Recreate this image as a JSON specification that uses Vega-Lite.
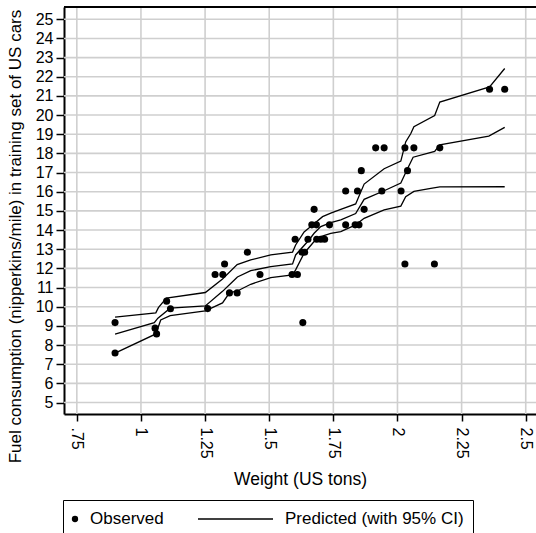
{
  "$schema": "https://vega.github.io/schema/vega-lite/v6.json",
  "width": 472,
  "height": 407,
  "autosize": {"type": "none"},
  "padding": {"left": 64, "top": 7, "right": 0, "bottom": 119},
  "background": "white",
  "config": {
    "font": "Liberation Sans",
    "view": {"stroke": null},
    "axis": {"labelColor": "black", "titleColor": "black", "titleFontWeight": "normal", "domainColor": "black", "tickColor": "black", "labelOverlap": false, "grid": false}
  },
  "datasets": {
    "gx": [{"gxv": 0.75}, {"gxv": 1}, {"gxv": 1.25}, {"gxv": 1.5}, {"gxv": 1.75}, {"gxv": 2}, {"gxv": 2.25}, {"gxv": 2.5}],
    "gy": [{"gyv": 5}, {"gyv": 6}, {"gyv": 7}, {"gyv": 8}, {"gyv": 9}, {"gyv": 10}, {"gyv": 11}, {"gyv": 12}, {"gyv": 13}, {"gyv": 14}, {"gyv": 15}, {"gyv": 16}, {"gyv": 17}, {"gyv": 18}, {"gyv": 19}, {"gyv": 20}, {"gyv": 21}, {"gyv": 22}, {"gyv": 23}, {"gyv": 24}, {"gyv": 25}],
    "obs": [
      {"weight": 0.899, "fuel": 9.17}, {"weight": 0.899, "fuel": 7.58},
      {"weight": 1.055, "fuel": 8.88}, {"weight": 1.061, "fuel": 8.58},
      {"weight": 1.100, "fuel": 10.29}, {"weight": 1.115, "fuel": 9.89},
      {"weight": 1.260, "fuel": 9.90}, {"weight": 1.289, "fuel": 11.68},
      {"weight": 1.319, "fuel": 11.68}, {"weight": 1.326, "fuel": 12.23},
      {"weight": 1.345, "fuel": 10.72}, {"weight": 1.375, "fuel": 10.72},
      {"weight": 1.415, "fuel": 12.84}, {"weight": 1.464, "fuel": 11.68},
      {"weight": 1.589, "fuel": 11.68}, {"weight": 1.610, "fuel": 11.68},
      {"weight": 1.601, "fuel": 13.52}, {"weight": 1.631, "fuel": 9.17},
      {"weight": 1.628, "fuel": 12.84}, {"weight": 1.638, "fuel": 12.84},
      {"weight": 1.651, "fuel": 13.52}, {"weight": 1.666, "fuel": 14.27},
      {"weight": 1.684, "fuel": 14.27}, {"weight": 1.675, "fuel": 15.08},
      {"weight": 1.685, "fuel": 13.52}, {"weight": 1.701, "fuel": 13.52},
      {"weight": 1.716, "fuel": 13.52}, {"weight": 1.735, "fuel": 14.27},
      {"weight": 1.798, "fuel": 14.27}, {"weight": 1.835, "fuel": 14.27},
      {"weight": 1.850, "fuel": 14.27}, {"weight": 1.870, "fuel": 15.08},
      {"weight": 1.798, "fuel": 16.04}, {"weight": 1.844, "fuel": 16.04},
      {"weight": 1.859, "fuel": 17.10}, {"weight": 1.915, "fuel": 18.29},
      {"weight": 1.948, "fuel": 18.29}, {"weight": 1.939, "fuel": 16.04},
      {"weight": 2.014, "fuel": 16.04}, {"weight": 2.029, "fuel": 18.29},
      {"weight": 2.064, "fuel": 18.29}, {"weight": 2.039, "fuel": 17.10},
      {"weight": 2.165, "fuel": 18.29}, {"weight": 2.029, "fuel": 12.23},
      {"weight": 2.144, "fuel": 12.23}, {"weight": 2.359, "fuel": 21.35},
      {"weight": 2.418, "fuel": 21.35}
    ],
    "pred": [
      {"band": "hi", "weight": 0.899, "value": 9.46}, {"band": "hi", "weight": 1.058, "value": 9.68},
      {"band": "hi", "weight": 1.068, "value": 9.95}, {"band": "hi", "weight": 1.099, "value": 10.45},
      {"band": "hi", "weight": 1.251, "value": 10.74}, {"band": "hi", "weight": 1.318, "value": 11.45},
      {"band": "hi", "weight": 1.375, "value": 12.2}, {"band": "hi", "weight": 1.428, "value": 12.44},
      {"band": "hi", "weight": 1.506, "value": 12.70}, {"band": "hi", "weight": 1.591, "value": 12.85},
      {"band": "hi", "weight": 1.603, "value": 13.22}, {"band": "hi", "weight": 1.636, "value": 13.90},
      {"band": "hi", "weight": 1.662, "value": 14.18}, {"band": "hi", "weight": 1.708, "value": 14.70},
      {"band": "hi", "weight": 1.740, "value": 14.88}, {"band": "hi", "weight": 1.779, "value": 15.08},
      {"band": "hi", "weight": 1.837, "value": 15.36}, {"band": "hi", "weight": 1.870, "value": 16.4},
      {"band": "hi", "weight": 1.948, "value": 17.2}, {"band": "hi", "weight": 2.013, "value": 17.6},
      {"band": "hi", "weight": 2.032, "value": 18.6}, {"band": "hi", "weight": 2.052, "value": 19.04},
      {"band": "hi", "weight": 2.064, "value": 19.39}, {"band": "hi", "weight": 2.145, "value": 19.98},
      {"band": "hi", "weight": 2.165, "value": 20.68}, {"band": "hi", "weight": 2.359, "value": 21.47},
      {"band": "hi", "weight": 2.418, "value": 22.43},
      {"band": "fit", "weight": 0.899, "value": 8.57}, {"band": "fit", "weight": 1.052, "value": 9.17},
      {"band": "fit", "weight": 1.066, "value": 9.40}, {"band": "fit", "weight": 1.114, "value": 9.92},
      {"band": "fit", "weight": 1.251, "value": 10.04}, {"band": "fit", "weight": 1.318, "value": 10.8},
      {"band": "fit", "weight": 1.357, "value": 11.3}, {"band": "fit", "weight": 1.376, "value": 11.55},
      {"band": "fit", "weight": 1.428, "value": 11.88}, {"band": "fit", "weight": 1.506, "value": 12.09},
      {"band": "fit", "weight": 1.591, "value": 12.23}, {"band": "fit", "weight": 1.603, "value": 12.70},
      {"band": "fit", "weight": 1.655, "value": 13.48}, {"band": "fit", "weight": 1.675, "value": 13.83},
      {"band": "fit", "weight": 1.701, "value": 14.18}, {"band": "fit", "weight": 1.740, "value": 14.39},
      {"band": "fit", "weight": 1.779, "value": 14.53}, {"band": "fit", "weight": 1.837, "value": 14.86},
      {"band": "fit", "weight": 1.870, "value": 15.6}, {"band": "fit", "weight": 1.948, "value": 16.05},
      {"band": "fit", "weight": 2.013, "value": 16.45}, {"band": "fit", "weight": 2.039, "value": 17.2},
      {"band": "fit", "weight": 2.061, "value": 17.8}, {"band": "fit", "weight": 2.145, "value": 18.1},
      {"band": "fit", "weight": 2.165, "value": 18.45}, {"band": "fit", "weight": 2.356, "value": 18.9},
      {"band": "fit", "weight": 2.418, "value": 19.36},
      {"band": "lo", "weight": 0.899, "value": 7.58}, {"band": "lo", "weight": 1.058, "value": 8.58},
      {"band": "lo", "weight": 1.077, "value": 9.31}, {"band": "lo", "weight": 1.114, "value": 9.53},
      {"band": "lo", "weight": 1.251, "value": 9.78}, {"band": "lo", "weight": 1.318, "value": 10.2},
      {"band": "lo", "weight": 1.345, "value": 10.72}, {"band": "lo", "weight": 1.376, "value": 10.82},
      {"band": "lo", "weight": 1.428, "value": 11.17}, {"band": "lo", "weight": 1.506, "value": 11.52},
      {"band": "lo", "weight": 1.591, "value": 11.66}, {"band": "lo", "weight": 1.603, "value": 11.92},
      {"band": "lo", "weight": 1.636, "value": 12.79}, {"band": "lo", "weight": 1.675, "value": 13.40},
      {"band": "lo", "weight": 1.701, "value": 13.66}, {"band": "lo", "weight": 1.740, "value": 13.83},
      {"band": "lo", "weight": 1.779, "value": 13.92}, {"band": "lo", "weight": 1.837, "value": 14.27},
      {"band": "lo", "weight": 1.870, "value": 14.61}, {"band": "lo", "weight": 1.948, "value": 15.05},
      {"band": "lo", "weight": 2.013, "value": 15.25}, {"band": "lo", "weight": 2.032, "value": 15.74},
      {"band": "lo", "weight": 2.064, "value": 16.02}, {"band": "lo", "weight": 2.130, "value": 16.18},
      {"band": "lo", "weight": 2.165, "value": 16.25}, {"band": "lo", "weight": 2.418, "value": 16.26}
    ]
  },
  "layer": [
    {
      "data": {"name": "gx"},
      "mark": {"type": "rule", "stroke": "#cfcfcf", "strokeWidth": 1.6},
      "encoding": {
        "x": {"field": "gxv", "type": "quantitative", "scale": {"domain": [0.7, 2.54], "nice": false, "zero": false},
          "axis": {"values": [0.75, 1, 1.25, 1.5, 1.75, 2, 2.25, 2.5], "labelExpr": "datum.value == 0.75 ? '.75' : format(datum.value, '~g')", "labelAngle": 90, "labelFontSize": 16, "labelPadding": 6, "tickSize": 7, "tickWidth": 1.5, "domainWidth": 2, "title": "Weight (US tons)", "titleFontSize": 17.5, "titleY": 70, "titleBaseline": "alphabetic"}},
        "y": {"datum": 4.4, "type": "quantitative", "scale": {"domain": [4.4, 25.64], "nice": false, "zero": false},
          "axis": {"values": [5,6,7,8,9,10,11,12,13,14,15,16,17,18,19,20,21,22,23,24,25], "labelOverlap": false, "labelFontSize": 16, "labelPadding": 3, "tickSize": 8, "tickWidth": 1.5, "domainWidth": 2, "title": "Fuel consumption (nipperkins/mile) in training set of US cars", "titleFontSize": 17, "titleX": -44, "titleY": 229, "titleBaseline": "alphabetic"}},
        "y2": {"datum": 25.64}
      }
    },
    {
      "data": {"name": "gy"},
      "mark": {"type": "rule", "stroke": "#cfcfcf", "strokeWidth": 1.6},
      "encoding": {
        "y": {"field": "gyv", "type": "quantitative",
          "axis": {"values": [5,6,7,8,9,10,11,12,13,14,15,16,17,18,19,20,21,22,23,24,25], "labelOverlap": false, "labelFontSize": 16, "labelPadding": 3, "tickSize": 8, "tickWidth": 1.5, "domainWidth": 2, "title": "Fuel consumption (nipperkins/mile) in training set of US cars", "titleFontSize": 17, "titleX": -44, "titleY": 229, "titleBaseline": "alphabetic"}},
        "x": {"datum": 0.7, "type": "quantitative",
          "axis": {"values": [0.75, 1, 1.25, 1.5, 1.75, 2, 2.25, 2.5], "labelExpr": "datum.value == 0.75 ? '.75' : format(datum.value, '~g')", "labelAngle": 90, "labelFontSize": 16, "labelPadding": 6, "tickSize": 7, "tickWidth": 1.5, "domainWidth": 2, "title": "Weight (US tons)", "titleFontSize": 17.5, "titleY": 70, "titleBaseline": "alphabetic"}},
        "x2": {"datum": 2.54}
      }
    },
    {
      "data": {"name": "pred"},
      "mark": {"type": "line", "strokeWidth": 1.3},
      "encoding": {
        "x": {"field": "weight", "type": "quantitative",
          "axis": {"values": [0.75, 1, 1.25, 1.5, 1.75, 2, 2.25, 2.5], "labelExpr": "datum.value == 0.75 ? '.75' : format(datum.value, '~g')", "labelAngle": 90, "labelFontSize": 16, "labelPadding": 6, "tickSize": 7, "tickWidth": 1.5, "domainWidth": 2, "title": "Weight (US tons)", "titleFontSize": 17.5, "titleY": 70, "titleBaseline": "alphabetic"}},
        "y": {"field": "value", "type": "quantitative",
          "axis": {"values": [5,6,7,8,9,10,11,12,13,14,15,16,17,18,19,20,21,22,23,24,25], "labelOverlap": false, "labelFontSize": 16, "labelPadding": 3, "tickSize": 8, "tickWidth": 1.5, "domainWidth": 2, "title": "Fuel consumption (nipperkins/mile) in training set of US cars", "titleFontSize": 17, "titleX": -44, "titleY": 229, "titleBaseline": "alphabetic"}},
        "detail": {"field": "band"},
        "color": {"datum": "Predicted (with 95% CI)", "type": "nominal",
          "scale": {"domain": ["Observed", "Predicted (with 95% CI)"], "range": ["black", "black"]},
          "legend": {
            "orient": "none", "legendX": -1, "legendY": 493, "direction": "horizontal", "title": null,
            "strokeColor": "black", "fillColor": "white", "padding": 9, "columnPadding": 31, "gridAlign": "none",
            "labelFont": "Liberation Sans", "labelFontSize": 17, "labelColor": "black", "labelLimit": 300,
            "encode": {
              "symbols": {"update": {
                "shape": {"signal": "datum.value === 'Observed' ? 'circle' : 'stroke'"},
                "size": {"signal": "datum.value === 'Observed' ? 40 : 5625"},
                "x": {"signal": "datum.value === 'Observed' ? 3 : 37.5"},
                "y": {"value": 10},
                "fill": {"value": "black"},
                "stroke": {"value": "black"},
                "strokeWidth": {"signal": "datum.value === 'Observed' ? 0 : 1.3"},
                "opacity": {"value": 1}
              }},
              "labels": {"update": {
                "x": {"signal": "datum.value === 'Observed' ? 18 : 87"},
                "y": {"value": 10},
                "baseline": {"value": "middle"}
              }}
            }
          }}
      }
    },
    {
      "data": {"name": "obs"},
      "mark": {"type": "circle", "size": 50, "opacity": 1},
      "encoding": {
        "x": {"field": "weight", "type": "quantitative",
          "axis": {"values": [0.75, 1, 1.25, 1.5, 1.75, 2, 2.25, 2.5], "labelExpr": "datum.value == 0.75 ? '.75' : format(datum.value, '~g')", "labelAngle": 90, "labelFontSize": 16, "labelPadding": 6, "tickSize": 7, "tickWidth": 1.5, "domainWidth": 2, "title": "Weight (US tons)", "titleFontSize": 17.5, "titleY": 70, "titleBaseline": "alphabetic"}},
        "y": {"field": "fuel", "type": "quantitative",
          "axis": {"values": [5,6,7,8,9,10,11,12,13,14,15,16,17,18,19,20,21,22,23,24,25], "labelOverlap": false, "labelFontSize": 16, "labelPadding": 3, "tickSize": 8, "tickWidth": 1.5, "domainWidth": 2, "title": "Fuel consumption (nipperkins/mile) in training set of US cars", "titleFontSize": 17, "titleX": -44, "titleY": 229, "titleBaseline": "alphabetic"}},
        "color": {"datum": "Observed", "type": "nominal"}
      }
    },
    {
      "data": {"values": [{}]},
      "mark": {"type": "rule", "color": "black", "strokeWidth": 2},
      "encoding": {"y": {"datum": 25.64, "type": "quantitative",
          "axis": {"values": [5,6,7,8,9,10,11,12,13,14,15,16,17,18,19,20,21,22,23,24,25], "labelOverlap": false, "labelFontSize": 16, "labelPadding": 3, "tickSize": 8, "tickWidth": 1.5, "domainWidth": 2, "title": "Fuel consumption (nipperkins/mile) in training set of US cars", "titleFontSize": 17, "titleX": -44, "titleY": 229, "titleBaseline": "alphabetic"}}}
    }
  ]
}
